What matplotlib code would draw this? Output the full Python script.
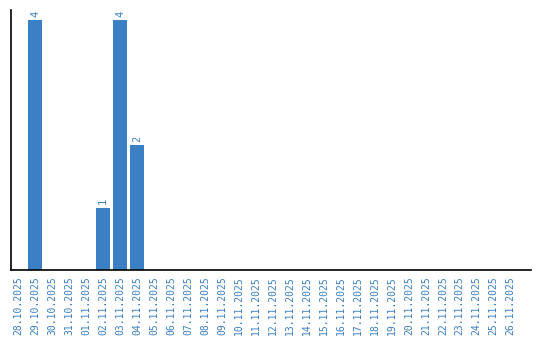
import matplotlib
matplotlib.use("Agg")
import matplotlib.pyplot as plt

# daily counts, 28.10.2025 .. 26.11.2025
dates = [
    "28.10.2025", "29.10.2025", "30.10.2025", "31.10.2025", "01.11.2025",
    "02.11.2025", "03.11.2025", "04.11.2025", "05.11.2025", "06.11.2025",
    "07.11.2025", "08.11.2025", "09.11.2025", "10.11.2025", "11.11.2025",
    "12.11.2025", "13.11.2025", "14.11.2025", "15.11.2025", "16.11.2025",
    "17.11.2025", "18.11.2025", "19.11.2025", "20.11.2025", "21.11.2025",
    "22.11.2025", "23.11.2025", "24.11.2025", "25.11.2025", "26.11.2025",
]
counts = [0, 4, 0, 0, 0, 1, 4, 2] + [0] * 22

BLUE = "#3b7fc4"

fig = plt.figure(figsize=(5.4, 3.4), dpi=100)
ax = fig.add_axes([10.5 / 540, 70 / 340, 520 / 540, 260 / 340])

x = range(len(dates))
bars = ax.bar(x, counts, width=0.82, color=BLUE)
for b, v in zip(bars, counts):
    if v:
        ax.text(b.get_x() + b.get_width() / 2, v + 0.05, str(v),
                rotation=90, ha="center", va="bottom", color=BLUE,
                family="DejaVu Sans Mono", fontsize=7.5)

ax.set_xlim(-0.44, len(dates) - 1 + 1.16)
ax.set_ylim(0, 4.16)
ax.set_xticks(list(x))
ax.set_xticklabels(dates, rotation=90, color=BLUE,
                   family="DejaVu Sans Mono", fontsize=7)
ax.tick_params(axis="x", length=0, pad=4.5)
ax.set_yticks([])
for s in ("top", "right"):
    ax.spines[s].set_visible(False)
for s in ("left", "bottom"):
    ax.spines[s].set_color("black")
    ax.spines[s].set_linewidth(1.2)

fig.savefig("out.png", dpi=100)
